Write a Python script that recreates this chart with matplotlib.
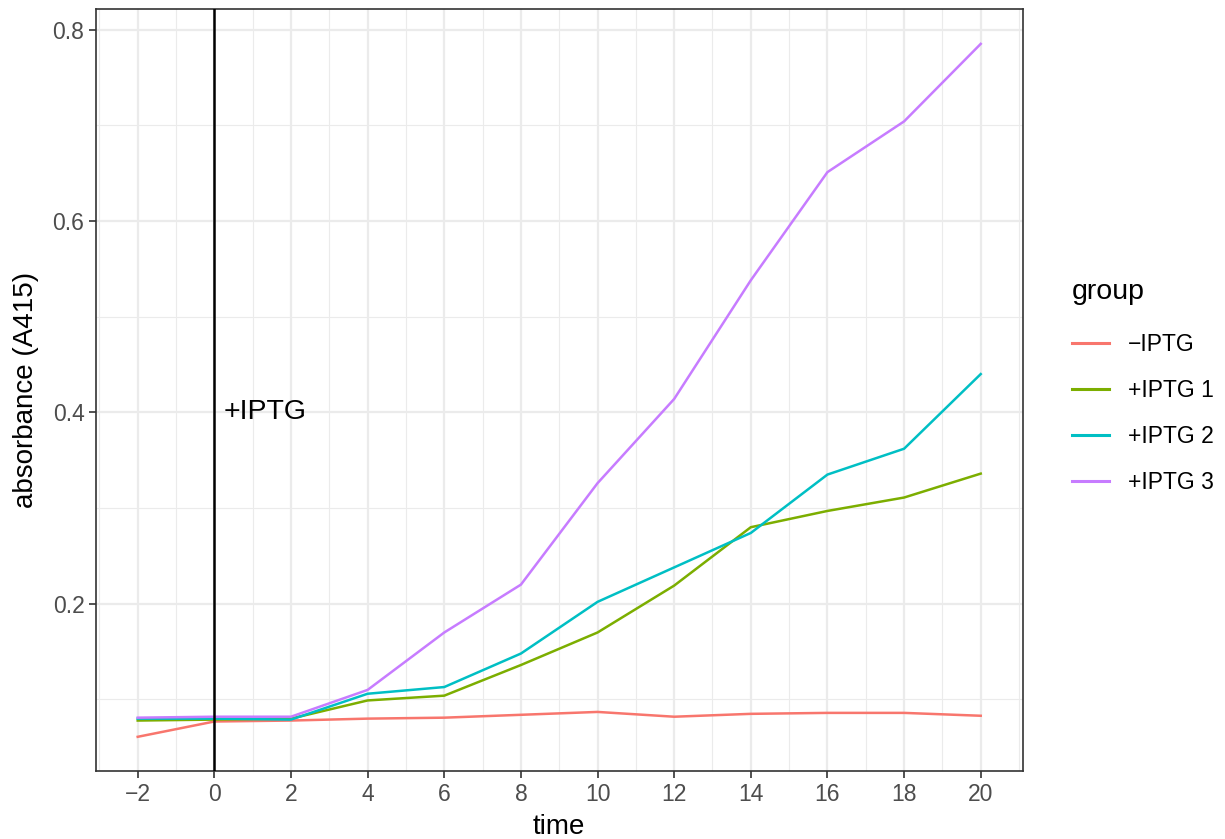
import matplotlib
matplotlib.use("Agg")
import matplotlib.pyplot as plt
from matplotlib.ticker import MultipleLocator

plt.rcParams['font.family'] = ['Liberation Sans', 'DejaVu Sans']
plt.rcParams['axes.unicode_minus'] = True

# data
time = [-2, 0, 2, 4, 6, 8, 10, 12, 14, 16, 18, 20]
groups = ['\u2212IPTG', '+IPTG 1', '+IPTG 2', '+IPTG 3']
minus_iptg = [0.061, 0.077, 0.078, 0.080, 0.081, 0.084, 0.087, 0.082, 0.085, 0.086, 0.086, 0.083]
iptg_1 = [0.078, 0.079, 0.080, 0.099, 0.104, 0.136, 0.170, 0.219, 0.280, 0.297, 0.311, 0.336]
iptg_2 = [0.080, 0.080, 0.079, 0.106, 0.113, 0.148, 0.202, 0.238, 0.274, 0.335, 0.362, 0.440]
iptg_3 = [0.081, 0.082, 0.082, 0.110, 0.170, 0.220, 0.326, 0.414, 0.538, 0.651, 0.704, 0.785]
series = [minus_iptg, iptg_1, iptg_2, iptg_3]
colors = ['#F8766D', '#7CAE00', '#00BFC4', '#C77CFF']

fig = plt.figure(figsize=(12.25, 8.39), dpi=100)
ax = fig.add_axes([0.078, 0.0805, 0.757, 0.9085])

for vals, lab, col in zip(series, groups, colors):
    ax.plot(time, vals, color=col, lw=1.8, label=lab, zorder=3)

# induction marker
ax.axvline(0, color='black', lw=1.8, zorder=4)
ax.text(0.25, 0.4, '+IPTG', fontsize=20.5, ha='left', va='center', zorder=5)

# ggplot-like limits with 5% expansion
xmin, xmax = min(time), max(time)
xpad = (xmax - xmin) * 0.05
ax.set_xlim(xmin - xpad, xmax + xpad)
ally = [v for s in series for v in s]
ypad = (max(ally) - min(ally)) * 0.05
ax.set_ylim(min(ally) - ypad, max(ally) + ypad)

ax.xaxis.set_major_locator(MultipleLocator(2))
ax.xaxis.set_minor_locator(MultipleLocator(1))
ax.yaxis.set_major_locator(MultipleLocator(0.2))
ax.yaxis.set_minor_locator(MultipleLocator(0.1))
ax.set_xticks(range(-2, 21, 2))

ax.grid(which='major', color='#EBEBEB', lw=1.6, zorder=0)
ax.grid(which='minor', color='#EBEBEB', lw=0.8, zorder=0)
ax.set_axisbelow(True)

for sp in ax.spines.values():
    sp.set_color('#333333')
    sp.set_linewidth(1.2)
ax.tick_params(which='major', length=5, width=1.2, color='#333333',
               labelsize=16.5, labelcolor='#4D4D4D', pad=3)
ax.tick_params(which='minor', length=0)

ax.set_xlabel('time', fontsize=20, labelpad=6)
ax.set_ylabel('absorbance (A415)', fontsize=20, labelpad=10)

leg = ax.legend(title='group', loc='center left', bbox_to_anchor=(1.043, 0.505),
                frameon=False, fontsize=16.5, title_fontsize=20.5,
                handlelength=1.6, handletextpad=0.85, labelspacing=1.0,
                borderaxespad=0)
leg._legend_box.align = 'left'
leg._legend_box.sep = 20
for line in leg.get_lines():
    line.set_linewidth(2.2)

fig.savefig('out.png', dpi=100)
